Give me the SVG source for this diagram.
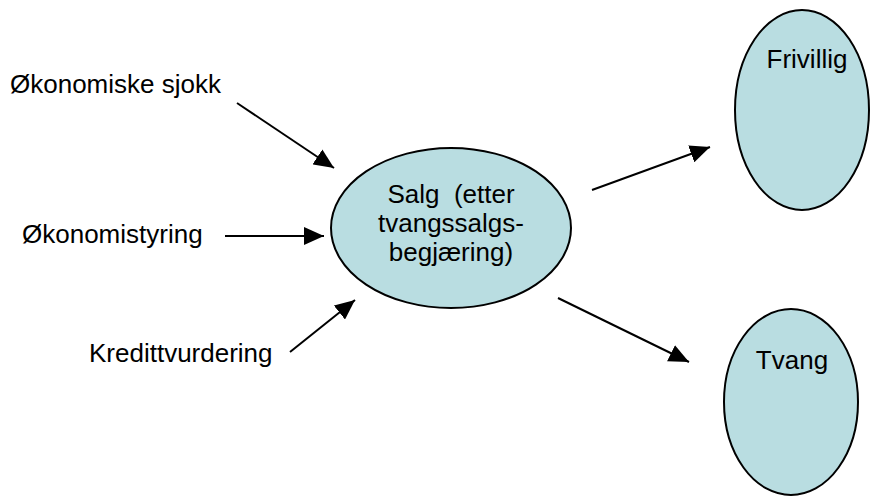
<svg xmlns="http://www.w3.org/2000/svg" width="871" height="497" viewBox="0 0 871 497">
<style>
.node{fill:#b9dde1;stroke:#000;stroke-width:2}
.t{font-family:"Liberation Sans",Arial,sans-serif;font-size:26px;fill:#000}
.c{stroke:#000;stroke-width:2;fill:none;marker-end:url(#ah)}
</style>
<defs>
<marker id="ah" markerUnits="userSpaceOnUse" markerWidth="22" markerHeight="18" refX="20" refY="9" orient="auto">
<path d="M0,0 L20,9 L0,18 Z" fill="#000"/>
</marker>
</defs>
<rect width="871" height="497" fill="#fff"/>
<g id="connectors">
<line class="c" x1="237" y1="103" x2="334" y2="168"/>
<line class="c" x1="225" y1="236" x2="324" y2="236"/>
<line class="c" x1="290" y1="352" x2="355" y2="300"/>
<line class="c" x1="592" y1="190" x2="710" y2="147"/>
<line class="c" x1="558" y1="298" x2="689" y2="362"/>
</g>
<g id="n-okonomiske-sjokk"><text class="t" x="10" y="93">Økonomiske sjokk</text></g>
<g id="n-okonomistyring"><text class="t" x="22" y="243">Økonomistyring</text></g>
<g id="n-kredittvurdering"><text class="t" x="89" y="362">Kredittvurdering</text></g>
<g id="n-salg">
<ellipse class="node" cx="451" cy="228" rx="120" ry="80"/>
<text class="t" text-anchor="middle" xml:space="preserve"><tspan x="451" y="203">Salg  (etter</tspan><tspan x="451" y="232">tvangssalgs-</tspan><tspan x="451" y="261">begjæring)</tspan></text>
</g>
<g id="n-frivillig">
<ellipse class="node" cx="802" cy="110" rx="67" ry="100"/>
<text class="t" x="807" y="68" text-anchor="middle">Frivillig</text>
</g>
<g id="n-tvang">
<ellipse class="node" cx="791" cy="402" rx="67" ry="93"/>
<text class="t" x="792" y="369" text-anchor="middle">Tvang</text>
</g>
</svg>
